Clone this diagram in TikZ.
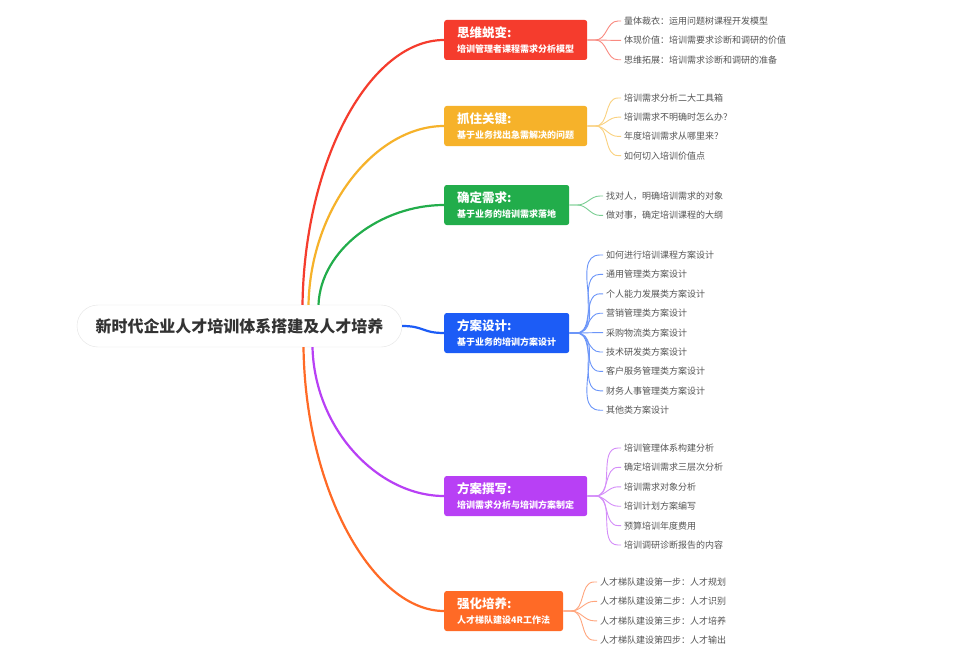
\documentclass[tikz,border=0pt]{standalone}
\usepackage{fontspec}
\setmainfont{Noto Sans CJK SC}
\usetikzlibrary{positioning,calc}
\definecolor{brRed}{RGB}{245, 60, 45}
\definecolor{brYellow}{RGB}{246, 178, 42}
\definecolor{brGreen}{RGB}{34, 173, 75}
\definecolor{brBlue}{RGB}{28, 92, 246}
\definecolor{brPurple}{RGB}{184, 64, 245}
\definecolor{brOrange}{RGB}{255, 106, 38}
\definecolor{rootLine}{RGB}{228, 228, 228}
\definecolor{rootText}{RGB}{51, 51, 51}
\definecolor{leafText}{RGB}{85, 85, 85}
\tikzset{
  root/.style={draw=rootLine, fill=white, rounded corners=21pt, minimum width=325pt,
    minimum height=42pt, text=rootText, font=\fontsize{16}{18}\selectfont\bfseries},
  branch/.style={rounded corners=2.5pt, anchor=west, minimum height=40pt, inner xsep=13pt,
    inner ysep=3pt, text=white, align=left},
  leaf/.style={anchor=west, inner sep=3pt, text=leafText, font=\fontsize{9}{10}\selectfont},
  trunk/.style={line width=2.2pt},
  twig/.style={line width=0.9pt}
}
\newcommand{\btext}[2]{{\fontsize{12.5}{14}\selectfont\bfseries #1}\\[2.5pt]{\fontsize{9}{10}\selectfont\bfseries #2}}

\begin{document}
\begin{tikzpicture}[x=1pt, y=-1pt]
      \fill[white] (0,0) rectangle (954,669);
      \useasboundingbox (0,0) rectangle (954,669);
      % root and main branches
      \node[root] (root) at (239.5,326) {新时代企业人才培训体系搭建及人才培养};
      \node[branch, fill=brRed] (b1) at (444,40) {\btext{思维蜕变:}{培训管理者课程需求分析模型}};
      \node[branch, fill=brYellow] (b2) at (444,126) {\btext{抓住关键:}{基于业务找出急需解决的问题}};
      \node[branch, fill=brGreen] (b3) at (444,205) {\btext{确定需求:}{基于业务的培训需求落地}};
      \node[branch, fill=brBlue] (b4) at (444,333) {\btext{方案设计:}{基于业务的培训方案设计}};
      \node[branch, fill=brPurple] (b5) at (444,496) {\btext{方案撰写:}{培训需求分析与培训方案制定}};
      \node[branch, fill=brOrange] (b6) at (444,611) {\btext{强化培养:}{人才梯队建设4R工作法}};
      \draw[trunk, brRed] ([xshift=63pt]root.north) .. controls +(2,-145) and +(-74,0) .. (b1.west);
      \draw[trunk, brYellow] ([xshift=69pt]root.north) .. controls +(2,-98) and +(-68,0) .. (b2.west);
      \draw[trunk, brGreen] ([xshift=79pt]root.north) .. controls +(2,-55) and +(-63,0) .. (b3.west);
      \draw[trunk, brBlue] (root.east) .. controls +(22,0) and +(-22,0) .. (b4.west);
      \draw[trunk, brPurple] ([xshift=73pt]root.south) .. controls +(2,82) and +(-66,0) .. (b5.west);
      \draw[trunk, brOrange] ([xshift=64pt]root.south) .. controls +(2,145) and +(-70,0) .. (b6.west);
      % leaves
      \foreach \t [count=\i] in {量体裁衣：运用问题树课程开发模型, 体现价值：培训需要求诊断和调研的价值, 思维拓展：培训需求诊断和调研的准备} {
        \node[leaf] (r\i) at (621, 21+19.4*\i-19.4) {\t};
        \draw[twig, brRed!60] (b1.east) -- ++(8,0) to[out=0, in=180] ($(r\i.west)+(-3,0)$) -- (r\i.west);
      }
      \foreach \t [count=\i] in {培训需求分析二大工具箱, 培训需求不明确时怎么办？, 年度培训需求从哪里来？, 如何切入培训价值点} {
        \node[leaf] (y\i) at (621, 98+19.2*\i-19.2) {\t};
        \draw[twig, brYellow!60] (b2.east) -- ++(8,0) to[out=0, in=180] ($(y\i.west)+(-3,0)$) -- (y\i.west);
      }
      \foreach \t [count=\i] in {找对人，明确培训需求的对象, 做对事，确定培训课程的大纲} {
        \node[leaf] (g\i) at (603, 196+19.4*\i-19.4) {\t};
        \draw[twig, brGreen!60] (b3.east) -- ++(8,0) to[out=0, in=180] ($(g\i.west)+(-3,0)$) -- (g\i.west);
      }
      \foreach \t [count=\i] in {如何进行培训课程方案设计, 通用管理类方案设计, 个人能力发展类方案设计, 营销管理类方案设计, 采购物流类方案设计, 技术研发类方案设计, 客户服务管理类方案设计, 财务人事管理类方案设计, 其他类方案设计} {
        \node[leaf] (u\i) at (603, 255+19.4*\i-19.4) {\t};
        \draw[twig, brBlue!65] (b4.east) -- ++(7,0) to[out=0, in=180] ($(u\i.west)+(-3,0)$) -- (u\i.west);
      }
      \foreach \t [count=\i] in {培训管理体系构建分析, 确定培训需求三层次分析, 培训需求对象分析, 培训计划方案编写, 预算培训年度费用, 培训调研诊断报告的内容} {
        \node[leaf] (p\i) at (621, 448+19.4*\i-19.4) {\t};
        \draw[twig, brPurple!60] (b5.east) -- ++(8,0) to[out=0, in=180] ($(p\i.west)+(-3,0)$) -- (p\i.west);
      }
      \foreach \t [count=\i] in {人才梯队建设第一步：人才规划, 人才梯队建设第二步：人才识别, 人才梯队建设第三步：人才培养, 人才梯队建设第四步：人才输出} {
        \node[leaf] (o\i) at (597, 582+19.4*\i-19.4) {\t};
        \draw[twig, brOrange!60] (b6.east) -- ++(8,0) to[out=0, in=180] ($(o\i.west)+(-3,0)$) -- (o\i.west);
      }
\end{tikzpicture}
\end{document}
